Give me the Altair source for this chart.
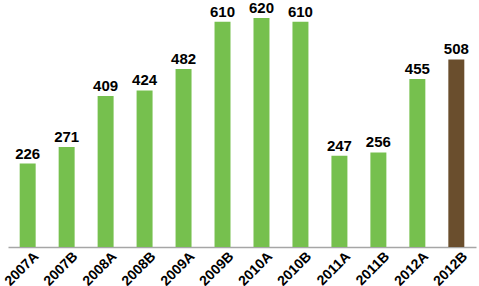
import altair as alt
import pandas as pd

categories = ["2007A", "2007B", "2008A", "2008B", "2009A", "2009B",
              "2010A", "2010B", "2011A", "2011B", "2012A", "2012B"]
values = [226, 271, 409, 424, 482, 610, 620, 610, 247, 256, 455, 508]
kinds = ["actual"] * 11 + ["budget"]

df = pd.DataFrame({"period": categories, "value": values, "kind": kinds})

xaxis = alt.Axis(labelAngle=-45, labelAlign="right", labelBaseline="top",
                 labelFont="Liberation Sans", labelFontWeight="bold",
                 labelFontSize=14, labelColor="black", ticks=False,
                 labelOverlap=False, labelBound=False, domainColor="#A6A6A6",
                 domainWidth=1.5, labelPadding=2, labelOffset=4)
xs = alt.Scale(paddingInner=0.59, paddingOuter=0.3)
y = alt.Y("value:Q", title=None, scale=alt.Scale(domain=[0, 669]), axis=None)

base = alt.Chart(df)
bars = base.mark_bar().encode(
    x=alt.X("period:N", sort=categories, title=None, scale=xs, axis=xaxis),
    y=y,
    color=alt.Color("kind:N", scale=alt.Scale(domain=["actual", "budget"],
                                              range=["#76C04E", "#6A4E2D"]), legend=None),
)

labels = base.mark_text(
    baseline="alphabetic", dy=-5, font="Liberation Sans", fontWeight="bold",
    fontSize=15, color="black"
).encode(x=alt.X("period:N", sort=categories, title=None, scale=xs, axis=xaxis),
         y=y, text="value:Q")

chart = alt.layer(bars, labels).properties(
    width=468, height=247,
    padding={"left": 8, "top": 0, "right": 3, "bottom": 39},
    autosize=alt.AutoSizeParams(type="none"),
).configure_view(stroke=None)

chart.save("out.html", embed_options={"renderer": "svg", "actions": False})
